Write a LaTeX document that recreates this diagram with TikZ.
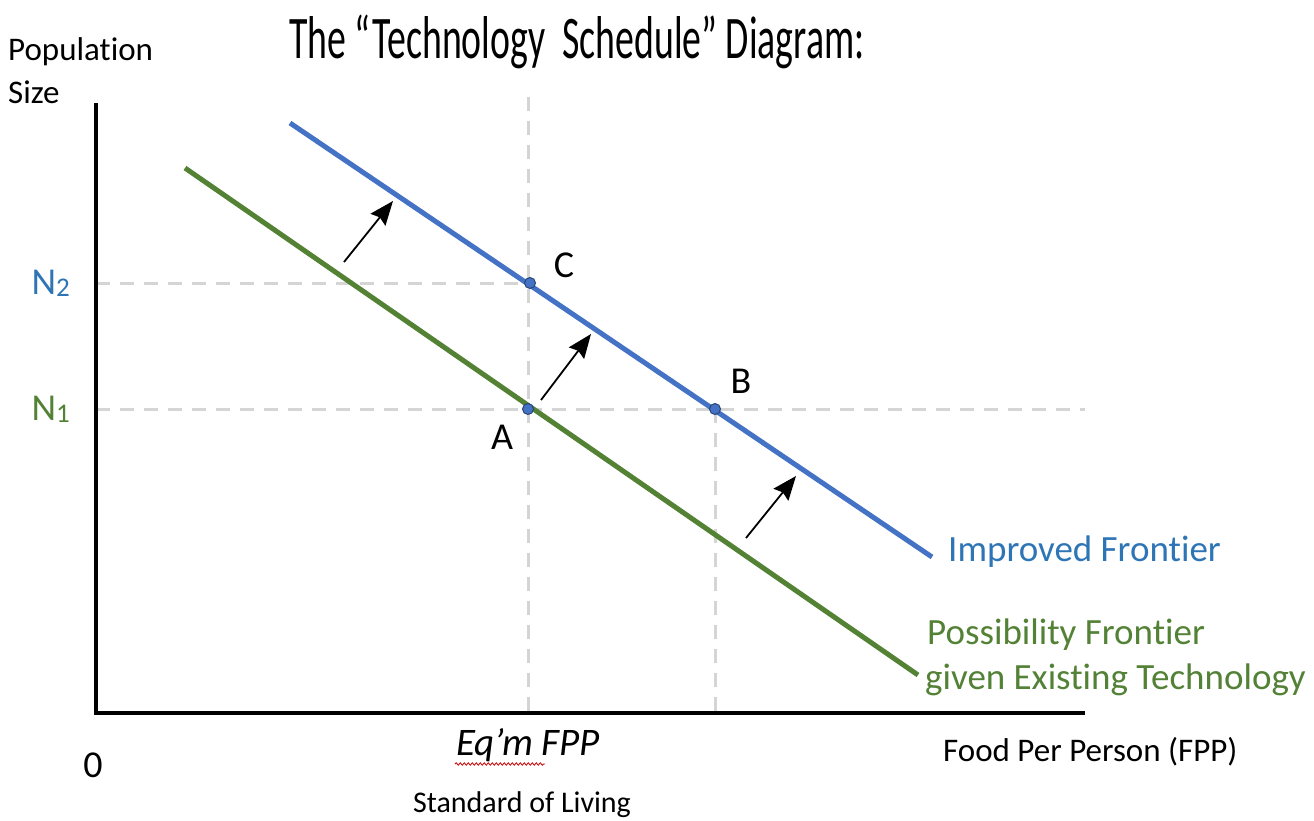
\documentclass[tikz,border=0pt]{standalone}
\usepackage{fontspec}
\setmainfont{Carlito}[Ligatures=NoCommon]
\usetikzlibrary{arrows.meta,decorations.pathmorphing}
\definecolor{lineblue}{HTML}{4472C4}
\definecolor{linegreen}{HTML}{548235}
\definecolor{txtblue}{HTML}{2E75B6}
\definecolor{txtgreen}{HTML}{538135}
\definecolor{guide}{HTML}{D5D5D5}
\begin{document}
\begin{tikzpicture}[x=1pt,y=-1pt,
  axis/.style={line width=3.5pt,black},
  frontier/.style={line width=5pt},
  guideline/.style={guide,line width=3pt,dash pattern=on 14pt off 10pt},
  shiftarrow/.style={line width=1.8pt,-{Stealth[length=24pt,width=19pt,inset=3pt]}},
  eqdot/.style={circle,fill=lineblue,draw=lineblue!60!black,line width=1pt,inner sep=0pt,minimum size=11pt},
  lbl/.style={inner sep=0pt,font=\fontsize{33}{37}\selectfont},
  big/.style={inner sep=0pt,font=\fontsize{38}{42}\selectfont},
  flbl/.style={inner sep=0pt,anchor=west,font=\fontsize{37}{40}\selectfont}]
\useasboundingbox (0,0) rectangle (1314,821);
% title
\node[inner sep=0pt] (title) at (577,42) {\resizebox*{575pt}{54pt}{The “Technology\ \ Schedule” Diagram:}};
% coordinates
\coordinate (O) at (96,713);
\coordinate (ytop) at (96,103);
\coordinate (xend) at (1085,713);
\coordinate (g1) at (185,168);
\coordinate (g2) at (918,675);
\coordinate (b1) at (290,123);
\coordinate (b2) at (932,557);
% guides
\draw[guideline] (96,283) -- (530,283);
\draw[guideline] (96,409) -- (1085,409);
\draw[guideline] (528,97) -- (528,713);
\draw[guideline] (715,409) -- (715,713);
% frontiers
\draw[frontier,linegreen] (g1) -- (g2);
\draw[frontier,lineblue] (b1) -- (b2);
% axes
\draw[axis] (ytop) -- (O) -- (xend);
% shift arrows
\coordinate (s1a) at (344,262); \coordinate (s1b) at (393,201);
\coordinate (s2a) at (541,400); \coordinate (s2b) at (591,334);
\coordinate (s3a) at (746,538); \coordinate (s3b) at (796,476);
\draw[shiftarrow] (s1a) -- (s1b);
\draw[shiftarrow] (s2a) -- (s2b);
\draw[shiftarrow] (s3a) -- (s3b);
% points
\node[eqdot] (A) at (528,409) {};
\node[eqdot] (C) at (530,283) {};
\node[eqdot] (B) at (715,409) {};
\node[big] (Alab) at (502,437) {A};
\node[big] (Clab) at (564,265) {C};
\node[big] (Blab) at (741,381) {B};
% axis labels
\node[lbl,anchor=west] (pop1) at (8,52) {Population};
\node[lbl,anchor=west] (pop2) at (8,92) {Size};
\node[big] (zero) at (93,765) {0};
\node[big,txtblue,anchor=east] (N2) at (70,283) {N\raisebox{-0.05em}{\fontsize{27}{30}\selectfont 2}};
\node[big,txtgreen,anchor=east] (N1) at (70,409) {N\raisebox{-0.05em}{\fontsize{27}{30}\selectfont 1}};
\node[big,font=\fontsize{39}{42}\selectfont] (eqm) at (528,745) {\itshape Eq’m FPP};
\draw[red!80!black,line width=0.8pt,decorate,decoration={snake,amplitude=1.2pt,segment length=4pt}] (455,764) -- (545,764);
\node[lbl,font=\fontsize{30}{34}\selectfont] (sol) at (522,805) {Standard of Living};
\node[lbl,anchor=west] (fpp) at (943,752) {Food Per Person (FPP)};
% frontier labels
\node[flbl,txtblue] (imp) at (948,552) {Improved Frontier};
\node[flbl,txtgreen] (pos1) at (927,635) {Possibility Frontier};
\node[flbl,txtgreen] (pos2) at (925,680) {given Existing Technology};
\end{tikzpicture}
\end{document}
